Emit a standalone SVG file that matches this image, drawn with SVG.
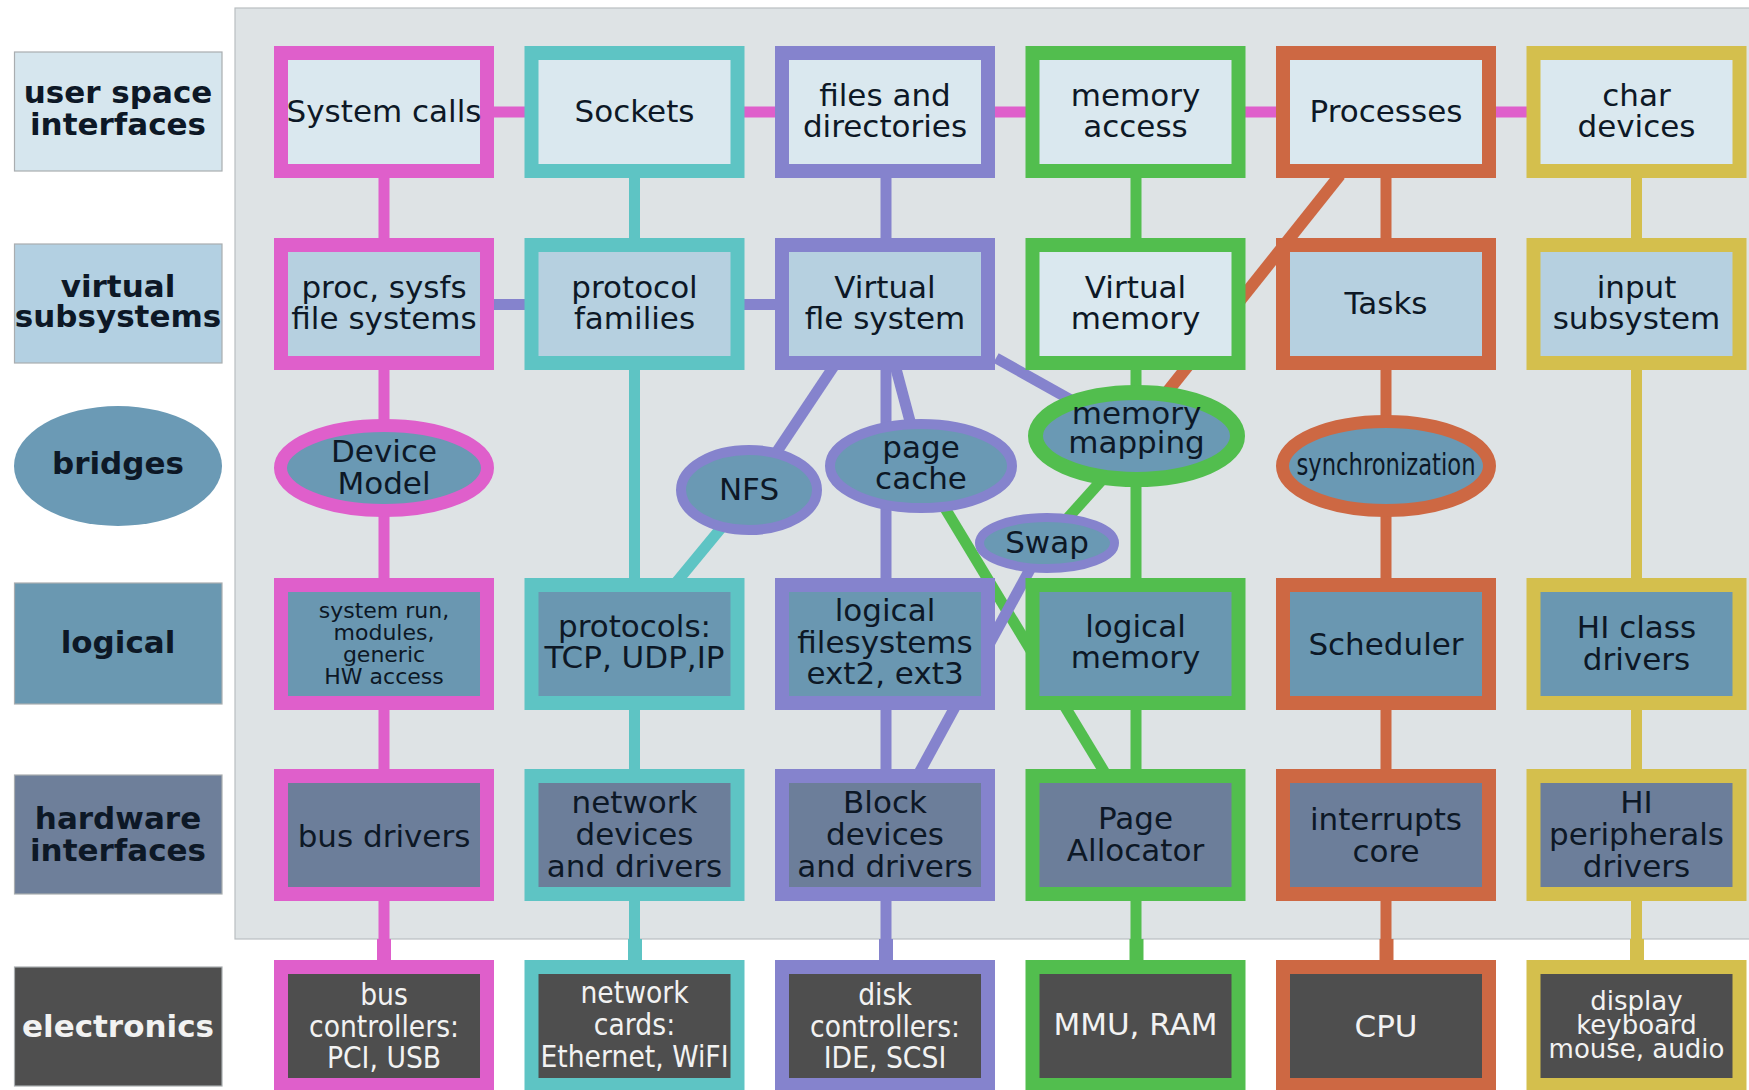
<svg xmlns="http://www.w3.org/2000/svg" width="1749" height="1090" viewBox="0 0 1749 1090">
<style>
  .bg{fill:#ffffff}
  .panel{fill:#dee3e5;stroke:#b9bec1;stroke-width:1.2}
  .lbl{stroke:#a9adb0;stroke-width:1.2}
  .box{stroke-width:14}
  .r1{fill:#dae8ef}
  .r2{fill:#b6d0e0}
  .r4{fill:#6a97b1}
  .r5{fill:#6c7e9a}
  .r6{fill:#4e4e4e}
  .pk{stroke:#df5fcb}
  .tl{stroke:#5ec4c4}
  .pu{stroke:#8583cd}
  .gr{stroke:#52be4e}
  .or{stroke:#cd6843}
  .ye{stroke:#d4bf4d}
  .ln{fill:none;stroke-width:11}
  .lo{fill:none;stroke-width:14}
  text{font-family:"DejaVu Sans","Liberation Sans",sans-serif;fill:#0d1826;text-anchor:middle}
  .t{font-size:31px}
  .s{font-size:22px}
  .m{font-size:26px}
  .b{font-size:31px;font-weight:bold}
  .w{fill:#f2f2f2}
</style>
<rect class="bg" x="0" y="0" width="1749" height="1090"/>
<rect class="panel" x="235" y="8" width="1530" height="931"/>

<!-- layer labels -->
<g id="label-user">
  <rect class="lbl" x="14.5" y="52" width="207.5" height="119" fill="#d6e6ee"/>
  <text class="b" x="118" y="103">user space</text>
  <text class="b" x="118" y="135">interfaces</text>
</g>
<g id="label-virtual">
  <rect class="lbl" x="14.5" y="244" width="207.5" height="119" fill="#b3d0e2"/>
  <text class="b" x="118" y="297">virtual</text>
  <text class="b" x="118" y="327">subsystems</text>
</g>
<g id="label-bridges">
  <ellipse cx="118" cy="466" rx="104" ry="60" fill="#6b9ab5"/>
  <text class="b" x="118" y="474">bridges</text>
</g>
<g id="label-logical">
  <rect class="lbl" x="14.5" y="583" width="207.5" height="121" fill="#6a98b1"/>
  <text class="b" x="118" y="653">logical</text>
</g>
<g id="label-hardware">
  <rect class="lbl" x="14.5" y="775" width="207.5" height="119" fill="#6e7f9a"/>
  <text class="b" x="118" y="829">hardware</text>
  <text class="b" x="118" y="861">interfaces</text>
</g>
<g id="label-electronics">
  <rect class="lbl" x="14.5" y="967" width="207.5" height="119" fill="#4f4f4f"/>
  <text class="b w" x="118" y="1037">electronics</text>
</g>

<!-- connectors -->
<g id="connectors">
  <line class="ln pk" x1="384" y1="112" x2="1636.5" y2="112"/>
  <line class="ln pu" x1="384" y1="304.5" x2="885" y2="304.5"/>
  <line class="ln pk" x1="384" y1="112" x2="384" y2="1026"/>
  <line class="ln tl" x1="634.5" y1="112" x2="634.5" y2="1026"/>
  <line class="ln pu" x1="886" y1="112" x2="886" y2="1026"/>
  <line class="ln gr" x1="1136" y1="112" x2="1136" y2="1026"/>
  <line class="ln or" x1="1386" y1="112" x2="1386" y2="1026"/>
  <line class="ln ye" x1="1636.5" y1="112" x2="1636.5" y2="1026"/>
  <line class="lo pk" x1="384" y1="939" x2="384" y2="962"/>
  <line class="lo tl" x1="635" y1="939" x2="635" y2="962"/>
  <line class="lo pu" x1="886" y1="939" x2="886" y2="962"/>
  <line class="lo gr" x1="1136.5" y1="939" x2="1136.5" y2="962"/>
  <line class="lo or" x1="1386.5" y1="939" x2="1386.5" y2="962"/>
  <line class="lo ye" x1="1637" y1="939" x2="1637" y2="962"/>
  <line class="ln pu" x1="838" y1="360" x2="760" y2="477"/>
  <line class="ln pu" x1="895" y1="365" x2="915" y2="440"/>
  <line class="ln pu" x1="996" y1="358" x2="1080" y2="405"/>
  <line class="ln tl" x1="736" y1="510" x2="670" y2="590"/>
  <line class="ln gr" x1="1110" y1="471" x2="1057" y2="530"/>
  <line class="ln gr" x1="940" y1="500" x2="1105" y2="773"/>
  <line class="ln pu" x1="1035" y1="560" x2="918" y2="775"/>
  <line class="ln or" x1="1340" y1="175" x2="1160" y2="401" style="stroke-width:12"/>
</g>

<!-- row 1 -->
<g id="n-syscalls"><rect class="box pk r1" x="281" y="53" width="206" height="118"/><text class="t" x="384" y="122">System calls</text></g>
<g id="n-sockets"><rect class="box tl r1" x="531.5" y="53" width="206" height="118"/><text class="t" x="634.5" y="122">Sockets</text></g>
<g id="n-files"><rect class="box pu r1" x="782" y="53" width="206" height="118"/><text class="t" x="885" y="106">files and</text><text class="t" x="885" y="137">directories</text></g>
<g id="n-memaccess"><rect class="box gr r1" x="1032.5" y="53" width="206" height="118"/><text class="t" x="1135.5" y="106">memory</text><text class="t" x="1135.5" y="137">access</text></g>
<g id="n-processes"><rect class="box or r1" x="1283" y="53" width="206" height="118"/><text class="t" x="1386" y="122">Processes</text></g>
<g id="n-chardev"><rect class="box ye r1" x="1533.5" y="53" width="206" height="118"/><text class="t" x="1636.5" y="106">char</text><text class="t" x="1636.5" y="137">devices</text></g>

<!-- row 2 -->
<g id="n-procfs"><rect class="box pk r2" x="281" y="245" width="206" height="118"/><text class="t" x="384" y="298">proc, sysfs</text><text class="t" x="384" y="329">file systems</text></g>
<g id="n-protofam"><rect class="box tl r2" x="531.5" y="245" width="206" height="118"/><text class="t" x="634.5" y="298">protocol</text><text class="t" x="634.5" y="329">families</text></g>
<g id="n-vfs"><rect class="box pu r2" x="782" y="245" width="206" height="118"/><text class="t" x="885" y="298">Virtual</text><text class="t" x="885" y="329">fle system</text></g>
<g id="n-vmem"><rect class="box gr r1" x="1032.5" y="245" width="206" height="118"/><text class="t" x="1135.5" y="298">Virtual</text><text class="t" x="1135.5" y="329">memory</text></g>
<g id="n-tasks"><rect class="box or r2" x="1283" y="245" width="206" height="118"/><text class="t" x="1386" y="314">Tasks</text></g>
<g id="n-input"><rect class="box ye r2" x="1533.5" y="245" width="206" height="118"/><text class="t" x="1636.5" y="298">input</text><text class="t" x="1636.5" y="329">subsystem</text></g>

<!-- bridges -->
<g id="n-devmodel"><ellipse class="pk" cx="384" cy="468" rx="103.5" ry="42.5" fill="#6a99b4" stroke-width="13"/><text class="t" x="384" y="462">Device</text><text class="t" x="384" y="494">Model</text></g>
<g id="n-nfs"><ellipse class="pu" cx="749" cy="490" rx="68" ry="40" fill="#6a99b4" stroke-width="10"/><text class="t" x="749" y="500">NFS</text></g>
<g id="n-pagecache"><ellipse class="pu" cx="921" cy="466" rx="91" ry="42" fill="#6a99b4" stroke-width="10"/><text class="t" x="921" y="458">page</text><text class="t" x="921" y="489">cache</text></g>
<g id="n-swap"><ellipse class="pu" cx="1047" cy="543" rx="67.5" ry="25.5" fill="#6a99b4" stroke-width="9"/><text class="t" x="1047" y="553">Swap</text></g>
<g id="n-memmap"><ellipse class="gr" cx="1136.5" cy="436" rx="101" ry="43.5" fill="#6a99b4" stroke-width="15"/><text class="t" x="1136.5" y="424">memory</text><text class="t" x="1136.5" y="453">mapping</text></g>
<g id="n-sync"><ellipse class="or" cx="1386" cy="466" rx="103.5" ry="44.5" fill="#6a99b4" stroke-width="13"/><text class="t" x="1386" y="475" textLength="179" lengthAdjust="spacingAndGlyphs">synchronization</text></g>

<!-- row 4 -->
<g id="n-sysrun"><rect class="box pk r4" x="281" y="585" width="206" height="118"/><text class="s" x="384" y="618">system run,</text><text class="s" x="384" y="640">modules,</text><text class="s" x="384" y="662">generic</text><text class="s" x="384" y="684">HW access</text></g>
<g id="n-protocols"><rect class="box tl r4" x="531.5" y="585" width="206" height="118"/><text class="t" x="634.5" y="637">protocols:</text><text class="t" x="634.5" y="668">TCP, UDP,IP</text></g>
<g id="n-logfs"><rect class="box pu r4" x="782" y="585" width="206" height="118"/><text class="t" x="885" y="621">logical</text><text class="t" x="885" y="653">filesystems</text><text class="t" x="885" y="684">ext2, ext3</text></g>
<g id="n-logmem"><rect class="box gr r4" x="1032.5" y="585" width="206" height="118"/><text class="t" x="1135.5" y="637">logical</text><text class="t" x="1135.5" y="668">memory</text></g>
<g id="n-sched"><rect class="box or r4" x="1283" y="585" width="206" height="118"/><text class="t" x="1386" y="655">Scheduler</text></g>
<g id="n-hiclass"><rect class="box ye r4" x="1533.5" y="585" width="206" height="118"/><text class="t" x="1636.5" y="638">HI class</text><text class="t" x="1636.5" y="670">drivers</text></g>

<!-- row 5 -->
<g id="n-busdrv"><rect class="box pk r5" x="281" y="776" width="206" height="118"/><text class="t" x="384" y="847">bus drivers</text></g>
<g id="n-netdev"><rect class="box tl r5" x="531.5" y="776" width="206" height="118"/><text class="t" x="634.5" y="813">network</text><text class="t" x="634.5" y="845">devices</text><text class="t" x="634.5" y="877">and drivers</text></g>
<g id="n-blockdev"><rect class="box pu r5" x="782" y="776" width="206" height="118"/><text class="t" x="885" y="813">Block</text><text class="t" x="885" y="845">devices</text><text class="t" x="885" y="877">and drivers</text></g>
<g id="n-pagealloc"><rect class="box gr r5" x="1032.5" y="776" width="206" height="118"/><text class="t" x="1135.5" y="829">Page</text><text class="t" x="1135.5" y="861">Allocator</text></g>
<g id="n-irq"><rect class="box or r5" x="1283" y="776" width="206" height="118"/><text class="t" x="1386" y="830">interrupts</text><text class="t" x="1386" y="862">core</text></g>
<g id="n-hiperiph"><rect class="box ye r5" x="1533.5" y="776" width="206" height="118"/><text class="t" x="1636.5" y="813">HI</text><text class="t" x="1636.5" y="845">peripherals</text><text class="t" x="1636.5" y="877">drivers</text></g>

<!-- row 6 -->
<g id="n-busctl"><rect class="box pk r6" x="281" y="967" width="206" height="118"/>
  <g transform="translate(384,0) scale(0.86,1)"><text class="t w" x="0" y="1005">bus</text><text class="t w" x="0" y="1037">controllers:</text><text class="t w" x="0" y="1068">PCI, USB</text></g></g>
<g id="n-netcards"><rect class="box tl r6" x="531.5" y="967" width="206" height="118"/>
  <g transform="translate(634.5,0) scale(0.86,1)"><text class="t w" x="0" y="1003">network</text><text class="t w" x="0" y="1035">cards:</text><text class="t w" x="0" y="1067">Ethernet, WiFI</text></g></g>
<g id="n-diskctl"><rect class="box pu r6" x="782" y="967" width="206" height="118"/>
  <g transform="translate(885,0) scale(0.86,1)"><text class="t w" x="0" y="1005">disk</text><text class="t w" x="0" y="1037">controllers:</text><text class="t w" x="0" y="1068">IDE, SCSI</text></g></g>
<g id="n-mmu"><rect class="box gr r6" x="1032.5" y="967" width="206" height="118"/><text class="t w" x="1135.5" y="1035">MMU, RAM</text></g>
<g id="n-cpu"><rect class="box or r6" x="1283" y="967" width="206" height="118"/><text class="t w" x="1386" y="1037">CPU</text></g>
<g id="n-display"><rect class="box ye r6" x="1533.5" y="967" width="206" height="118"/><text class="m w" x="1636.5" y="1010">display</text><text class="m w" x="1636.5" y="1034">keyboard</text><text class="m w" x="1636.5" y="1058">mouse, audio</text></g>
</svg>
